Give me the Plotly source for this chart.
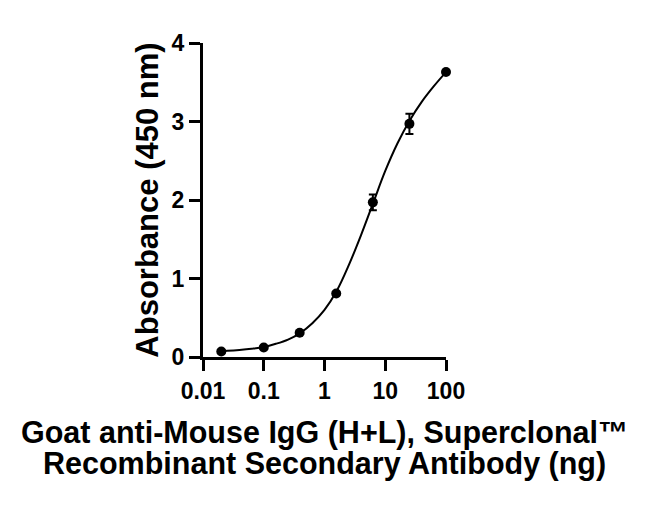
import plotly.graph_objects as go

# measured points
amount_ng = [0.02, 0.1, 0.39, 1.56, 6.25, 25, 100]
absorbance = [0.07, 0.12, 0.31, 0.81, 1.97, 2.97, 3.63]
err = [0.0, 0.0, 0.0, 0.0, 0.10, 0.13, 0.0]

# fitted curve
curve_x = [0.02, 0.0251, 0.0398, 0.0631, 0.1, 0.158, 0.251, 0.398, 0.631, 1.0,
           1.585, 2.512, 3.981, 6.31, 10.0, 15.85, 25.12, 39.81, 63.1, 100.0]
curve_y = [0.075, 0.079, 0.090, 0.105, 0.127, 0.168, 0.222, 0.305, 0.43, 0.60,
           0.84, 1.17, 1.55, 1.96, 2.37, 2.72, 3.01, 3.25, 3.45, 3.63]

x_ticks = [0.01, 0.1, 1, 10, 100]
x_ticktext = ["0.01", "0.1", "1", "10", "100"]
y_ticks = [0, 1, 2, 3, 4]

FONT = "Liberation Sans, Arial, sans-serif"

fig = go.Figure()
fig.add_trace(go.Scatter(
    x=curve_x, y=curve_y, mode="lines",
    line=dict(color="black", width=2, shape="spline", smoothing=1.0),
    hoverinfo="skip", showlegend=False, cliponaxis=False,
))
fig.add_trace(go.Scatter(
    x=amount_ng, y=absorbance, mode="markers",
    marker=dict(color="black", size=10),
    error_y=dict(type="data", array=err, visible=True, color="black",
                 thickness=2, width=4),
    showlegend=False, cliponaxis=False,
))

fig.update_layout(
    width=650, height=505,
    margin=dict(l=195, r=212, t=35, b=156),
    paper_bgcolor="white", plot_bgcolor="white",
    font=dict(family=FONT, color="black"),
    xaxis=dict(
        type="log", range=[-2, 2], tickvals=x_ticks,
        ticktext=[f"<b>{t}</b>" for t in x_ticktext],
        showline=True, linecolor="black", linewidth=3,
        ticks="outside", ticklen=11, tickwidth=3, tickcolor="black",
        tickfont=dict(size=23, family=FONT, color="black"),
        showgrid=False, zeroline=False, automargin=False,
    ),
    yaxis=dict(
        range=[0, 4], tickvals=y_ticks, ticktext=[f"<b>{t}</b>" for t in y_ticks],
        showline=True, linecolor="black", linewidth=3,
        ticks="outside", ticklen=11, tickwidth=3, tickcolor="black",
        tickfont=dict(size=23, family=FONT, color="black"),
        showgrid=False, zeroline=False, automargin=False,
        title=dict(text="<b>Absorbance (450 nm)</b>",
                   font=dict(size=31, family=FONT, color="black"), standoff=4),
    ),
    annotations=[
        dict(text="<b>Goat anti-Mouse IgG (H+L), Superclonal™</b>", xref="paper", yref="paper",
             x=0.5, y=-0.239, xanchor="center", yanchor="middle", showarrow=False,
             font=dict(size=30.5, family=FONT, color="black")),
        dict(text="<b>Recombinant Secondary Antibody (ng)</b>", xref="paper", yref="paper",
             x=0.5, y=-0.338, xanchor="center", yanchor="middle", showarrow=False,
             font=dict(size=30.5, family=FONT, color="black")),
    ],
)

fig.write_html("out.html")
